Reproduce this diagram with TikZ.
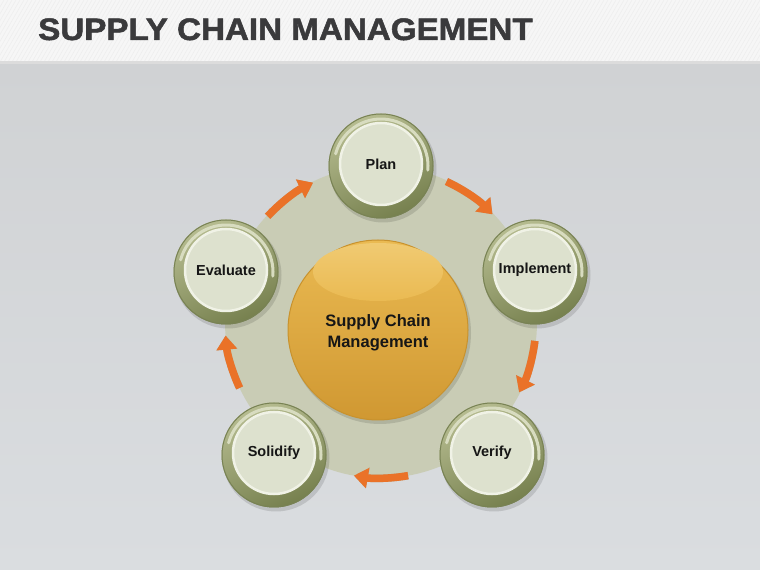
\documentclass[tikz,border=0pt]{standalone}
\usepackage{fontspec}
\setmainfont{Liberation Sans}
\newfontfamily\scmtitlefont[FakeBold=1.6]{Liberation Sans Bold}
\usetikzlibrary{arrows.meta,shadings,calc}

\definecolor{titlegray}{RGB}{58,58,60}
\definecolor{titlebar}{RGB}{246,246,246}
\definecolor{titleline}{RGB}{220,220,220}
\definecolor{bgtop}{RGB}{208,210,212}
\definecolor{bgmid}{RGB}{240,242,244}
\definecolor{bgbot}{RGB}{218,221,224}
\definecolor{diskcol}{RGB}{201,204,181}
\definecolor{ringlight}{RGB}{182,188,144}
\definecolor{ringdark}{RGB}{118,128,78}
\definecolor{ringedge}{RGB}{120,130,84}
\definecolor{ringhl}{RGB}{216,220,192}
\definecolor{facecol}{RGB}{221,225,206}
\definecolor{faceedge}{RGB}{240,242,230}
\definecolor{goldtop}{RGB}{234,186,82}
\definecolor{goldbot}{RGB}{208,152,50}
\definecolor{goldedge}{RGB}{200,146,46}
\definecolor{goldhl}{RGB}{240,202,114}
\definecolor{arrowcol}{RGB}{234,114,40}
\definecolor{arrowshadow}{RGB}{178,174,152}

\tikzset{
  stagelabel/.style={font=\bfseries\fontsize{14.5}{16}\selectfont, text={rgb,255:red,22;green,22;blue,22}, inner sep=0pt},
  stageface/.style={circle, minimum size=82pt, inner sep=0pt, fill=facecol, draw=faceedge, line width=2.5pt},
  scmarrow/.style={draw=arrowcol, fill=arrowcol, line width=7.5pt, -{Triangle[width=20pt,length=14pt]}},
  scmshadow/.style={draw=arrowshadow, line width=7.5pt, -{Triangle[width=20pt,length=14pt]}}
}

\newcommand\scmstage[4]{%
  \fill[black, opacity=0.12] (#2+2,#3-3) circle (53.5);
  \shade[top color=ringlight, bottom color=ringdark, shading angle=25] (#2,#3) circle (52.5);
  \draw[ringedge, line width=1pt] (#2,#3) circle (52);
  \draw[ringhl, line width=3pt, line cap=round] ($(#2,#3)+(165:47)$) arc (165:-5:47);
  \node[stageface] (#1) at (#2,#3+2) {};
  \node[stagelabel] (#1-text) at (#1) {#4};
}

\begin{document}
\begin{tikzpicture}[x=1pt,y=1pt]
\useasboundingbox (0,0) rectangle (760,570);
% body background
\shade[top color=bgtop, middle color=bgmid, bottom color=bgbot] (0,0) rectangle (760,508);
% title bar
\fill[titlebar] (0,508) rectangle (760,570);
\begin{scope}
  \clip (0,508) rectangle (760,570);
  \foreach \i in {-60,-56,...,800} {
    \draw[white!93!black, line width=0.5pt] (\i,508) -- (\i+36,570);
  }
\end{scope}
\fill[titleline] (0,505.5) rectangle (760,509);
\node[anchor=base west, inner sep=0pt, xscale=1.07, text=titlegray,
      font=\scmtitlefont\fontsize{31}{31}\selectfont] (title) at (38,530) {SUPPLY CHAIN MANAGEMENT};

% large pale disk
\node[circle, minimum size=312pt, inner sep=0pt, fill=diskcol] (disk) at (381,248) {};
\coordinate (C) at (381,248);

% arrows
\coordinate (a1s) at ($(C)+(65:155)$);
\coordinate (a2s) at ($(C)+(-7:155)$);
\coordinate (a3s) at ($(C)+(-80:156)$);
\coordinate (a4s) at ($(C)+(205:156)$);
\coordinate (a5s) at ($(C)+(137:155)$);
\begin{scope}[shift={(1.5,-2)}]
  \draw[scmshadow] (a1s) arc (65:44:155);
  \draw[scmshadow] (a2s) arc (-7:-27:155);
  \draw[scmshadow] (a3s) arc (-80:-100:156);
  \draw[scmshadow] (a4s) arc (205:185:156);
  \draw[scmshadow] (a5s) arc (137:116:155);
\end{scope}
\draw[scmarrow] (a1s) arc (65:44:155);
\draw[scmarrow] (a2s) arc (-7:-27:155);
\draw[scmarrow] (a3s) arc (-80:-100:156);
\draw[scmarrow] (a4s) arc (205:185:156);
\draw[scmarrow] (a5s) arc (137:116:155);

% central gold sphere
\fill[black, opacity=0.12] (380,237) circle (91);
\node[circle, minimum size=180pt, inner sep=0pt, top color=goldtop, bottom color=goldbot, draw=goldedge, line width=1pt] (scm) at (378,240) {};
\shade[top color=goldhl, bottom color=goldtop] (378,298) ellipse (65 and 29);
\node[align=center, font=\bfseries\fontsize{16.5}{21}\selectfont, text={rgb,255:red,22;green,22;blue,22}, inner sep=0pt] (scm-text) at (378,237) {Supply Chain\\Management};

% stages
\scmstage{plan}{381}{404}{Plan}
\scmstage{implement}{535}{298}{Implement}
\scmstage{verify}{492}{115}{Verify}
\scmstage{solidify}{274}{115}{Solidify}
\scmstage{evaluate}{226}{298}{Evaluate}
\end{tikzpicture}
\end{document}
